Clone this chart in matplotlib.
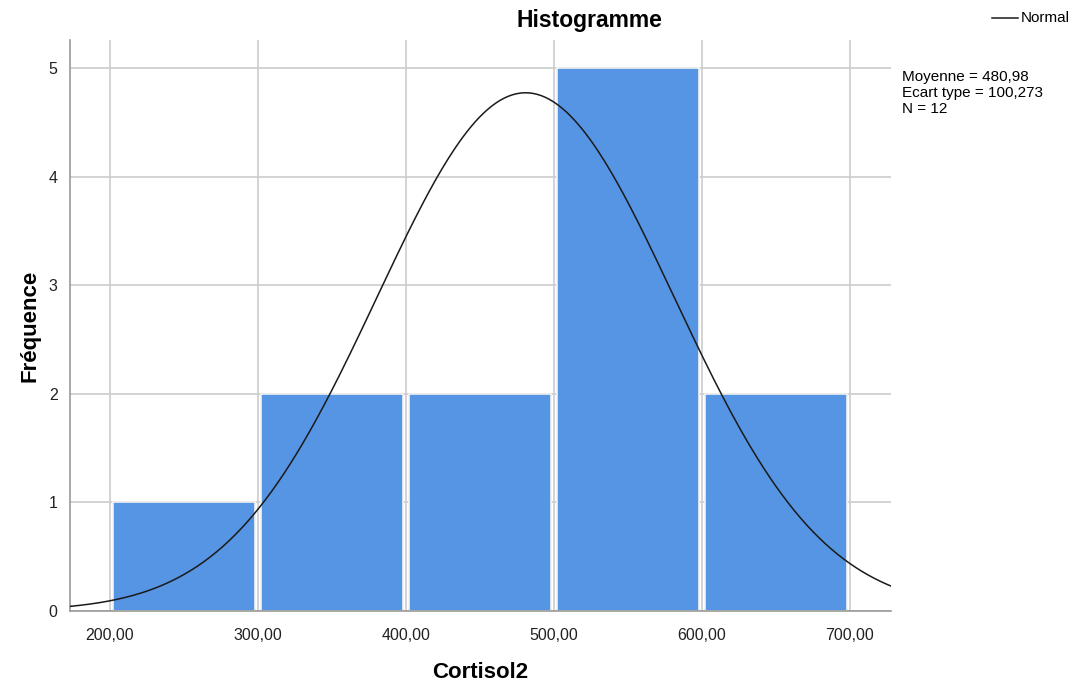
import numpy as np
import matplotlib.pyplot as plt

plt.rcParams['font.family'] = ['Liberation Sans', 'DejaVu Sans']

# Histogram data (bin edges and counts)
bin_left = [200, 300, 400, 500, 600]
counts = [1, 2, 2, 5, 2]
bin_width = 100
x_ticks = [200, 300, 400, 500, 600, 700]
x_tick_labels = ['200,00', '300,00', '400,00', '500,00', '600,00', '700,00']
y_ticks = [0, 1, 2, 3, 4, 5]

mean = 480.98
std = 100.273
n = 12

fig = plt.figure(figsize=(10.74, 6.82), dpi=100)
ax = fig.add_axes([0.0652, 0.1041, 0.7644, 0.8372])

bar_color = '#5595e3'
centers = [b + bin_width / 2 for b in bin_left]
ax.bar(centers, counts, width=bin_width - 4, color=bar_color,
       edgecolor='#f2f2f2', linewidth=1.2, zorder=2)

# Normal curve scaled to counts
xs = np.linspace(173, 728, 400)
ys = n * bin_width * np.exp(-0.5 * ((xs - mean) / std) ** 2) / (std * np.sqrt(2 * np.pi))
ax.plot(xs, ys, color='#1a1a1a', linewidth=1.1, zorder=3)

ax.set_xlim(173, 728)
ax.set_ylim(0, 5.26)
ax.set_xticks(x_ticks)
ax.set_xticklabels(x_tick_labels)
ax.set_yticks(y_ticks)
ax.tick_params(length=0, labelsize=11.5, colors='#222222')
ax.tick_params(axis='x', pad=12)
ax.tick_params(axis='y', pad=9)
ax.grid(True, color='#cccccc', linewidth=1.2, zorder=0)
ax.set_axisbelow(True)

for side in ['top', 'right']:
    ax.spines[side].set_visible(False)
for side in ['left', 'bottom']:
    ax.spines[side].set_color('#999999')
    ax.spines[side].set_linewidth(1.2)

ax.set_xlabel('Cortisol2', fontsize=16, fontweight='bold', labelpad=14)
ax.set_ylabel('Fréquence', fontsize=16, fontweight='bold', labelpad=6)

fig.text(589 / 1074, 1 - 20 / 682, 'Histogramme', fontsize=16.5, fontweight='bold',
         ha='center', va='center')

# Legend
fig.add_artist(plt.Line2D([992 / 1074, 1018 / 1074], [1 - 18 / 682, 1 - 18 / 682],
                          color='#1a1a1a', linewidth=1.1))
fig.text(1021 / 1074, 1 - 18 / 682, 'Normal', fontsize=11, ha='left', va='center')

stats = 'Moyenne = 480,98\nEcart type = 100,273\nN = 12'
fig.text(902 / 1074, 1 - 70 / 682, stats, fontsize=11, ha='left', va='top',
         linespacing=1.2)

plt.savefig('out.png', dpi=100)
